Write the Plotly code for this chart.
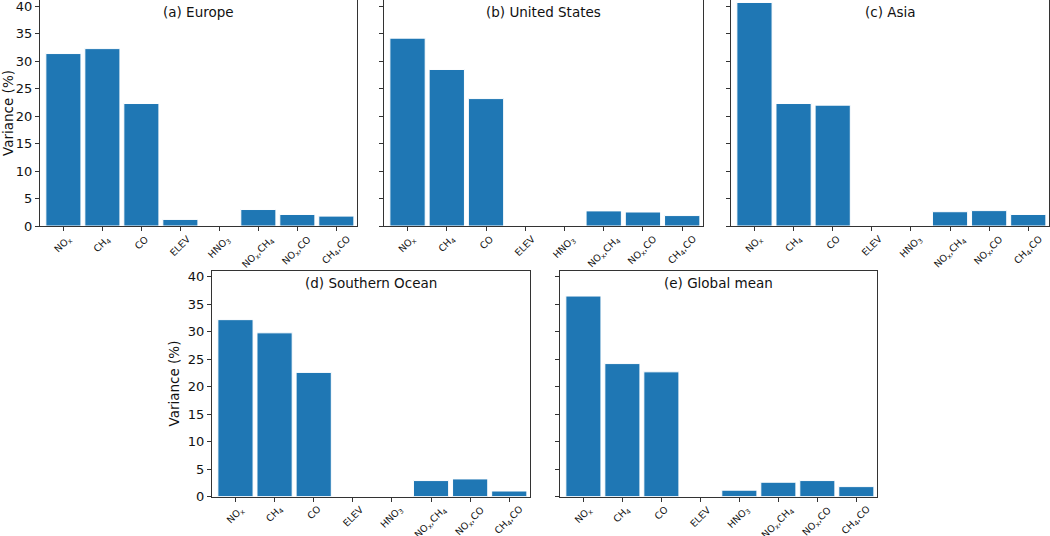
import plotly.graph_objects as go

categories = ["NO<sub>x</sub>", "CH<sub>4</sub>", "CO", "ELEV", "HNO<sub>3</sub>",
              "NO<sub>x</sub>,CH<sub>4</sub>", "NO<sub>x</sub>,CO", "CH<sub>4</sub>,CO"]
europe = [31.4, 32.3, 22.3, 1.2, 0.0, 3.0, 2.1, 1.8]
united_states = [34.2, 28.5, 23.2, 0.0, 0.0, 2.75, 2.55, 1.9]
asia = [40.7, 22.3, 22.0, 0.0, 0.0, 2.6, 2.8, 2.1]
southern_ocean = [32.2, 29.8, 22.6, 0.0, 0.0, 2.9, 3.2, 1.0]
global_mean = [36.5, 24.2, 22.7, 0.0, 1.15, 2.6, 2.9, 1.8]
panel_titles = ["(a) Europe", "(b) United States", "(c) Asia",
                "(d) Southern Ocean", "(e) Global mean"]
y_ticks = [0, 5, 10, 15, 20, 25, 30, 35, 40]

W, H = 1050, 536
# pixel boxes: (left, right, top, bottom)
boxes = [(40, 357, 0, 226), (384, 703, 0, 226), (731, 1049, 0, 226),
         (212, 530, 270.5, 496.5), (560, 877, 270.5, 496.5)]
series = [europe, united_states, asia, southern_ocean, global_mean]
show_ylabels = [True, False, False, True, False]

FONT = "DejaVu Sans"
AX = "#333333"
TXT = "#111111"
fig = go.Figure()
layout = dict(width=W, height=H, margin=dict(l=0, r=0, t=0, b=0, autoexpand=False),
              plot_bgcolor="white", paper_bgcolor="white", showlegend=False,
              font=dict(family=FONT, color=TXT), annotations=[])

for i, (vals, box, title, showlab) in enumerate(zip(series, boxes, panel_titles, show_ylabels)):
    n = "" if i == 0 else str(i + 1)
    xa, ya = "x" + n, "y" + n
    fig.add_trace(go.Bar(x=categories, y=vals, width=0.9, xaxis=xa, yaxis=ya,
                         marker=dict(color="#1f77b4", line=dict(color="white", width=1))))
    l, r, t, b = box
    layout["xaxis" + n] = dict(domain=[l / W, r / W], anchor=ya, type="category",
                               range=[-0.6, 7.53], showline=True, mirror=True,
                               linecolor=AX, linewidth=1, ticks="outside", ticklen=4,
                               tickcolor=AX, showticklabels=False, automargin=False,
                               showgrid=False, zeroline=False, fixedrange=True)
    yd = dict(domain=[1 - b / H, 1 - t / H], anchor=xa, range=[0, 41.15],
              tickvals=y_ticks, showline=True, mirror=True, linecolor=AX, linewidth=1,
              ticks="outside", ticklen=4, tickcolor=AX, showticklabels=showlab,
              ticklabeloverflow="allow",
              tickfont=dict(size=13, family=FONT, color=TXT), automargin=False,
              showgrid=False, zeroline=False, fixedrange=True)
    if showlab:
        yd["title"] = dict(text="Variance (%)", standoff=5,
                           font=dict(size=13.5, family=FONT, color=TXT))
    layout["yaxis" + n] = yd
    layout["annotations"].append(dict(text=title, xref=xa + " domain", yref=ya + " domain",
                                      x=0.5, y=1 - 12 / (b - t), xanchor="center",
                                      yanchor="middle", showarrow=False,
                                      font=dict(size=13.5, family=FONT, color=TXT)))
    # rotated category labels, centred under each tick (matplotlib style)
    for c in categories:
        layout["annotations"].append(dict(text=c, xref=xa, yref=ya + " domain", x=c, y=0,
                                          yshift=-6, xanchor="center", yanchor="top",
                                          textangle=-45, showarrow=False,
                                          borderpad=0,
                                          font=dict(size=9.5, family=FONT, color=TXT)))

fig.update_layout(**layout)
fig.write_html("out.html", config={"displayModeBar": False},
               post_script="document.body.style.margin='0';document.body.style.overflow='hidden';")
